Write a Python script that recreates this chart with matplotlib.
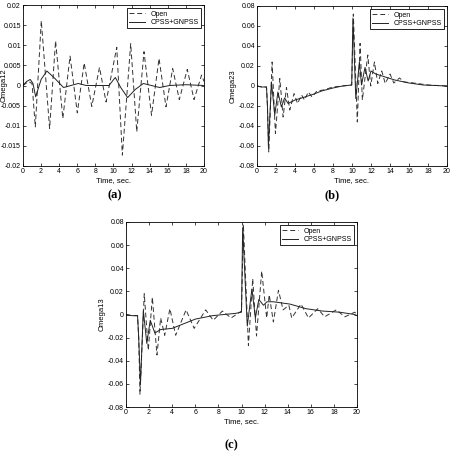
import matplotlib
matplotlib.use("Agg")
import matplotlib.pyplot as plt

# values: (time, value) at peaks / troughs
# (a) Omega12
t_a_open = [0, 0.6, 1.0, 1.36, 2.02, 2.94, 3.6, 4.4, 5.2, 6.0, 6.76, 7.6, 8.45, 9.18,
            10.36, 10.98, 11.9, 12.57, 13.37, 14.2, 15.03, 15.8, 16.54, 17.27, 18.15,
            18.9, 19.73, 20]
v_a_open = [0, 0.001, 0.0005, -0.0103, 0.0161, -0.0107, 0.0111, -0.0082, 0.0073, -0.0068,
            0.0056, -0.0052, 0.0045, -0.0041, 0.0095, -0.0173, 0.0104, -0.0115, 0.0084,
            -0.0074, 0.0067, -0.0053, 0.0042, -0.0035, 0.004, -0.0035, 0.0026, 0.001]
t_a_ctrl = [0, 0.4, 0.8, 1.1, 1.4, 2.0, 2.64, 3.5, 4.48, 5.3, 6.1, 7.0, 8.0, 9.5,
            10.2, 10.8, 11.56, 12.4, 13.3, 14.2, 15.1, 16.2, 18.0, 20]
v_a_ctrl = [0, 0.001, 0.0015, 0.0005, -0.0028, 0.0015, 0.0036, 0.0018, -0.0005, 0.0,
            0.0005, 0.0, 0.0, 0.0, 0.002, -0.0005, -0.003, -0.001, 0.0005, 0.0,
            -0.0005, 0.0, 0.0002, 0.0]

# (b) Omega23
t_b_open = [0, 0.5, 1.0, 1.1, 1.24, 1.59, 1.94, 2.4, 2.75, 3.1, 3.45, 3.9, 4.27, 4.69,
            5.0, 5.4, 5.8, 6.3, 7.0, 8.0, 9.0, 9.97, 10.14, 10.56, 10.85, 11.09, 11.66,
            11.97, 12.36, 12.71, 13.13, 13.5, 14.0, 14.4, 15.0, 15.5, 16.5, 18.0, 20]
v_b_open = [0, -0.001, -0.001, -0.02, -0.066, 0.024, -0.0476, 0.0075, -0.031, -0.0015,
            -0.024, -0.0075, -0.0175, -0.009, -0.014, -0.006, -0.011, -0.005, -0.004,
            -0.001, 0.0, 0.001, 0.072, -0.036, 0.0426, -0.014, 0.031, 0.0, 0.024, 0.0025,
            0.015, 0.0025, 0.012, 0.003, 0.008, 0.004, 0.003, 0.001, 0.0]
t_b_ctrl = [0, 0.5, 1.0, 1.1, 1.2, 1.52, 1.87, 2.2, 2.57, 2.9, 3.28, 4.0, 5.03, 6.0, 6.8,
            8.0, 9.0, 9.97, 10.1, 10.4, 10.78, 11.0, 11.37, 11.7, 12.0, 12.5, 13.5,
            14.5, 16.0, 17.5, 20]
v_b_ctrl = [0, -0.001, -0.001, -0.02, -0.061, 0.004, -0.029, -0.006, -0.021, -0.012,
            -0.0175, -0.014, -0.011, -0.008, -0.005, -0.002, 0.0, 0.001, 0.068, -0.0125,
            0.024, 0.001, 0.0186, 0.005, 0.015, 0.012, 0.009, 0.006, 0.003, 0.001, 0.0]

# (c) Omega13
t_c_open = [0, 0.5, 1.0, 1.1, 1.21, 1.58, 1.93, 2.28, 2.68, 3.0, 3.35, 3.8, 4.3, 5.2,
            5.9, 6.9, 7.55, 8.35, 9.1, 10.0, 10.16, 10.6, 10.97, 11.3, 11.75, 12.18,
            12.4, 12.76, 13.2, 13.6, 14.1, 14.35, 15.15, 15.8, 16.6, 17.2, 18.2, 18.95,
            19.8, 20]
v_c_open = [0, -0.001, -0.001, -0.02, -0.069, 0.018, -0.031, 0.015, -0.035, -0.003,
            -0.018, 0.005, -0.018, 0.004, -0.012, 0.004, -0.005, 0.003, -0.003, 0.003,
            0.078, -0.027, 0.031, -0.0186, 0.0376, -0.003, 0.017, -0.0065, 0.021, 0.004,
            0.008, -0.003, 0.009, -0.003, 0.005, -0.002, 0.004, -0.002, 0.002, 0.0]
t_c_ctrl = [0, 0.5, 1.0, 1.1, 1.25, 1.5, 1.8, 2.1, 2.5, 3.0, 4.0, 5.0, 6.0, 7.5, 8.5, 9.5,
            10.0, 10.1, 10.5, 10.9, 11.2, 11.5, 11.9, 12.2, 12.76, 14.2, 15.6, 17.0,
            18.5, 19.8, 20]
v_c_ctrl = [0, -0.001, -0.001, -0.02, -0.061, 0.0036, -0.025, -0.005, -0.016, -0.013,
            -0.012, -0.008, -0.004, -0.001, 0.0, 0.001, 0.002, 0.075, -0.01, 0.022,
            -0.003, 0.013, 0.008, 0.011, 0.011, 0.009, 0.005, 0.003, 0.002, 0.0, -0.001]

yt_small = [-0.02, -0.015, -0.01, -0.005, 0, 0.005, 0.01, 0.015, 0.02]
yt_big = [-0.08, -0.06, -0.04, -0.02, 0, 0.02, 0.04, 0.06, 0.08]

W, H = 455, 453
panels = [
    # axes box in pixels (left, top, right, bottom), ylabel, ylim, yticks, data, tag, tag pos, ylabel x px
    ((23, 5, 204, 166), "Omega12", (-0.02, 0.02), yt_small,
     t_a_open, v_a_open, t_a_ctrl, v_a_ctrl, "(a)", (115, 195), 4.5),
    ((257, 6, 447, 166), "Omega23", (-0.08, 0.08), yt_big,
     t_b_open, v_b_open, t_b_ctrl, v_b_ctrl, "(b)", (332, 195), 233),
    ((126, 222, 357, 407), "Omega13", (-0.08, 0.08), yt_big,
     t_c_open, v_c_open, t_c_ctrl, v_c_ctrl, "(c)", (231, 445), 102),
]

plt.rcParams['font.family'] = ['Liberation Sans', 'DejaVu Sans']
fig = plt.figure(figsize=(W / 100, H / 100), dpi=100)

for box, ylab, ylim, yticks, to, vo, tc, vc, tag, tagpos, ylx in panels:
    l, t, r, b = box
    ax = fig.add_axes([l / W, 1 - b / H, (r - l) / W, (b - t) / H])
    ax.plot(to, vo, color='#333333', lw=0.7, ls=(0, (5, 3)), label='Open')
    ax.plot(tc, vc, color='#222222', lw=0.7, label='CPSS+GNPSS')
    ax.set_xlim(0, 20)
    ax.set_ylim(*ylim)
    ax.set_xticks(range(0, 21, 2))
    ax.set_yticks(yticks)
    ax.set_yticklabels([('%g' % y) for y in yticks])
    ax.tick_params(direction='in', length=2.5, width=0.5, labelsize=5,
                   top=True, right=True, pad=1.5)
    for s in ax.spines.values():
        s.set_linewidth(0.6)
    ax.set_xlabel("Time, sec.", fontsize=5.5, labelpad=1.5)
    ax.set_ylabel(ylab, fontsize=5.5, va='center')
    ax.yaxis.set_label_coords((ylx - l) / (r - l), 0.5)
    leg = ax.legend(loc='upper right', fontsize=5, frameon=True, fancybox=False,
                    edgecolor='black', framealpha=1, borderaxespad=0.5,
                    handlelength=2.2, borderpad=0.3, labelspacing=0.2)
    leg.get_frame().set_linewidth(0.6)
    fig.text(tagpos[0] / W, 1 - tagpos[1] / H, tag, ha='center', va='center',
             fontsize=9, fontweight='bold', family='Liberation Serif')

fig.savefig("out.png", dpi=100)
